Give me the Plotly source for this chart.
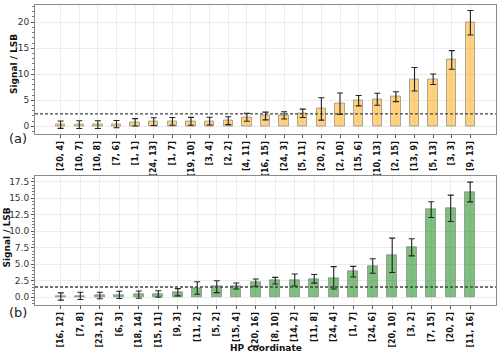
import plotly.graph_objects as go
from plotly.subplots import make_subplots

# Données
coords_a = ["[20, 4]", "[10, 7]", "[10, 8]", "[7, 6]", "[1, 1]", "[24, 13]", "[1, 7]",
            "[19, 10]", "[3, 4]", "[2, 2]", "[4, 11]", "[16, 15]", "[24, 3]", "[5, 11]",
            "[20, 2]", "[2, 10]", "[15, 6]", "[10, 13]", "[2, 15]", "[13, 9]", "[5, 13]",
            "[3, 3]", "[9, 13]"]
signal_a = [0.31, 0.33, 0.33, 0.42, 0.77, 0.9, 0.95, 0.96, 1.0, 1.08, 1.73, 1.98, 2.1,
            2.5, 3.33, 4.35, 4.92, 5.19, 5.7, 9.04, 9.04, 12.75, 19.9]
err_a = [0.7, 0.75, 0.75, 0.7, 0.7, 0.75, 0.75, 0.75, 0.75, 0.75, 0.75, 0.75, 0.7,
         0.8, 2.15, 2.05, 1.0, 1.15, 0.95, 2.25, 1.0, 1.8, 2.35]
threshold_a = 2.37

coords_b = ["[16, 12]", "[7, 8]", "[23, 12]", "[6, 3]", "[18, 14]", "[15, 11]", "[9, 3]",
            "[11, 2]", "[5, 2]", "[15, 4]", "[20, 16]", "[8, 10]", "[14, 2]", "[11, 8]",
            "[24, 4]", "[1, 7]", "[24, 6]", "[20, 10]", "[3, 2]", "[7, 15]", "[20, 2]",
            "[11, 16]"]
signal_b = [0.12, 0.22, 0.27, 0.37, 0.4, 0.5, 0.76, 1.41, 1.61, 1.71, 2.22, 2.52, 2.62,
            2.8, 2.95, 3.88, 4.74, 6.36, 7.57, 13.28, 13.48, 15.95]
err_b = [0.55, 0.55, 0.5, 0.55, 0.55, 0.5, 0.55, 0.95, 0.9, 0.45, 0.55, 0.5, 0.9, 0.65,
         1.7, 0.8, 1.1, 2.6, 1.3, 1.2, 2.0, 1.5]
threshold_b = 1.56

fig = make_subplots(rows=2, cols=1)

# Barres avec barres d'erreur
def add_bars(x, y, err, color, row):
    fig.add_trace(go.Bar(
        x=x, y=y, width=0.5,
        marker=dict(color=color, line=dict(color="rgba(120,120,120,0.6)", width=1)),
        error_y=dict(type="data", array=err, color="#222222", thickness=1.1, width=3),
        showlegend=False), row=row, col=1)

add_bars(coords_a, signal_a, err_a, "rgba(255,165,0,0.5)", 1)
add_bars(coords_b, signal_b, err_b, "rgba(0,128,0,0.5)", 2)

# Seuils en pointillés
fig.add_hline(y=threshold_a, line=dict(color="#444444", width=1.3, dash="3px,2px"), row=1, col=1)
fig.add_hline(y=threshold_b, line=dict(color="#444444", width=1.3, dash="3px,2px"), row=2, col=1)

axis_common = dict(showline=True, mirror=True, linecolor="#8a8a8a", linewidth=1,
                   showgrid=True, gridcolor="#ececec", gridwidth=1, automargin=False,
                   ticks="outside", ticklen=3, tickcolor="#555555", zeroline=False)

fig.update_xaxes(**axis_common, tickangle=-90, domain=[0.07, 0.992],
                 tickfont=dict(family="DejaVu Sans", size=8, color="#111111", weight="bold"))
fig.update_xaxes(range=[-1.375, len(coords_a) - 1 + 1.375], row=1, col=1)
fig.update_xaxes(range=[-1.325, len(coords_b) - 1 + 1.325], row=2, col=1)

fig.update_yaxes(**axis_common, tickfont=dict(family="DejaVu Sans", size=9, color="#333333"))
fig.update_yaxes(domain=[0.6225, 0.9873], range=[-1.48, 23.4], dtick=5,
                 minor=dict(ticks="outside", ticklen=2, dtick=1, tickcolor="#777777", showgrid=False),
                 row=1, col=1)
fig.update_yaxes(domain=[0.1408, 0.5034], range=[-1.17, 18.33], dtick=2.5, tickformat=".1f",
                 minor=dict(ticks="outside", ticklen=2, dtick=0.5, tickcolor="#777777", showgrid=False),
                 row=2, col=1)

title_font = dict(family="DejaVu Sans", size=9, color="#111111", weight="bold")

# Titres des axes y (placés à la main)
for xpix, ypix in [(14, 64), (6.5, 238)]:
    fig.add_annotation(text="Signal / LSB", x=xpix / 500, y=1 - ypix / 355,
                       xref="paper", yref="paper", xanchor="center", yanchor="middle",
                       textangle=-90, showarrow=False, font=title_font)

# Étiquettes des panneaux
for label, ypos in [("(a)", 1 - 139 / 355), ("(b)", 1 - 312 / 355)]:
    fig.add_annotation(text=label, x=17.5 / 500, y=ypos, xref="paper", yref="paper",
                       xanchor="center", yanchor="middle", showarrow=False,
                       font=dict(family="DejaVu Sans", size=13, color="#222222"))

# Titre de l'axe x (bas)
fig.add_annotation(text="HP coordinate", x=265.5 / 500, y=1 - 348 / 355,
                   xref="paper", yref="paper", xanchor="center", yanchor="middle",
                   showarrow=False, font=title_font)

fig.update_layout(width=500, height=355, margin=dict(l=0, r=0, t=0, b=0),
                  plot_bgcolor="white", paper_bgcolor="white", bargap=0)

# Supprimer la marge par défaut de la page
fig.write_html("out.html", config={"displayModeBar": False},
               post_script="document.body.style.margin='0';")
